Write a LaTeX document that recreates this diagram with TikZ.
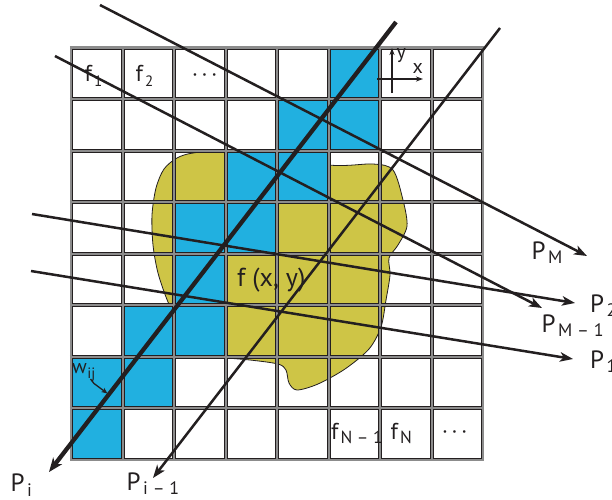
\documentclass[tikz,border=0pt]{standalone}
\usepackage{fontspec}
\setmainfont{PT Sans}
\usetikzlibrary{arrows.meta}
\definecolor{cblue}{RGB}{33,176,224}
\definecolor{cyel}{RGB}{206,197,70}
\definecolor{ink}{RGB}{35,31,32}
\definecolor{gridgray}{RGB}{140,140,140}
\newcommand{\mainsub}[5]{{\fontsize{#1}{#1}\selectfont #3}\hspace{#5}\raisebox{-4.5pt}{\fontsize{#2}{#2}\selectfont #4}}
\begin{document}
\begin{tikzpicture}[x=1pt,y=-1pt,
  ray/.style={ink, line width=2.5pt, -{Stealth[length=13pt,width=9.5pt,inset=3.5pt]}},
  thickray/.style={ink, line width=4.3pt, -{Stealth[length=14pt,width=11pt,inset=4pt]}},
  axis/.style={ink, line width=1.5pt, -{Stealth[length=7pt,width=5pt,inset=2pt]}},
  lab/.style={anchor=base west, inner sep=0pt, text=ink},
  cellline/.style={ink, line width=1pt},
  gapline/.style={gridgray, line width=2.5pt}]
\useasboundingbox (0,0) rectangle (612,499);
\fill[white] (0,0) rectangle (612,499);

% object f(x,y)
\draw[fill=cyel, draw=ink, line width=0.8pt] plot[smooth cycle, tension=0.5] coordinates {
  (193,153) (227,151) (328,165) (373,164) (393,170) (403,200) (407,226) (398,245)
  (389,258) (390,275) (386,300) (381,327) (369,349) (345,369) (318,384) (297,390)
  (289,383) (286,370) (278,364) (250,360) (215,357) (196,354) (182,330) (168,302)
  (158,273) (153,245) (152,215) (156,188) (164,169) (177,158)};

% blue cells (rays' footprint)
\foreach \c/\r in {6/1,5/2,6/2,4/3,5/3,3/4,4/4,3/5,2/6,3/6,1/7,2/7,1/8}
  \fill[cblue] ({71+51.5*(\c-1)},{47.5+51.5*(\r-1)}) rectangle +(51.5,51.5);

% grid
\foreach \i in {0,...,8} {
  \draw[gapline] ({71+51.5*\i},46.3) -- ({71+51.5*\i},460.7);
  \draw[gapline] (69.8,{47.5+51.5*\i}) -- (484.2,{47.5+51.5*\i});
}
\foreach \c in {0,...,7}
  \foreach \r in {0,...,7}
    \draw[cellline] ({71+51.5*\c+1.5},{47.5+51.5*\r+1.5}) rectangle +(48.5,48.5);

% cell labels
\node[lab] (f1) at (84.5,81.7) {\mainsub{23}{15}{f}{1}{2pt}};
\node[lab] (f2) at (135.5,81.7) {\mainsub{23}{15}{f}{2}{2pt}};
\node[lab, font=\fontsize{22}{22}\selectfont] (dots1) at (192,81.7) {·\,·\,·};
\node[lab] (fN1) at (331,439) {\mainsub{23}{17.5}{f}{N – 1}{2pt}};
\node[lab] (fN) at (390.5,439) {\mainsub{23}{17.5}{f}{N}{2pt}};
\node[lab, font=\fontsize{22}{22}\selectfont] (dots2) at (442,438) {·\,·\,·};

% axes in cell
\coordinate (ay0) at (392,93);
\coordinate (ay1) at (392,48);
\coordinate (ax0) at (377,79);
\coordinate (ax1) at (423,79);
\draw[axis] (ay0) -- (ay1);
\draw[axis] (ax0) -- (ax1);
\node[lab, font=\fontsize{20}{20}\selectfont] (ylab) at (396.5,58) {y};
\node[lab, font=\fontsize{20}{20}\selectfont] (xlab) at (412.5,73.5) {x};

% f(x,y)
\node[lab, font=\fontsize{26}{26}\selectfont] (fxy) at (237,286) {f (x, y)};

% w_ij
\node[lab] (wij) at (72,373.5) {\mainsub{20}{15}{w}{ij}{0.5pt}};
\coordinate (wa) at (90.5,379);
\coordinate (wb) at (94,383.5);
\coordinate (wc) at (107.5,393.5);
\draw[ink, line width=1.3pt, -{Stealth[length=6pt,width=5pt,inset=1.5pt]}] (wa) -- (wb) -- (wc);

% projection rays
\coordinate (sM) at (100,5);     \coordinate (eM) at (587,256);
\coordinate (sM1) at (55,56);    \coordinate (eM1) at (542,308);
\coordinate (s2) at (32,214);    \coordinate (e2) at (575,303);
\coordinate (s1) at (31,271);    \coordinate (e1) at (573,359);
\coordinate (si) at (396,22);    \coordinate (ei) at (49,472);
\coordinate (si1) at (500,28);   \coordinate (ei1) at (153,478);
\draw[ray] (sM) -- (eM);
\draw[ray] (sM1) -- (eM1);
\draw[ray] (s2) -- (e2);
\draw[ray] (s1) -- (e1);
\draw[thickray] (si) -- (ei);
\draw[ray] (si1) -- (ei1);

% ray labels
\node[lab] (PM) at (531.5,259) {\mainsub{25}{18}{P}{M}{2.5pt}};
\node[lab] (P2) at (590,312) {\mainsub{25}{18}{P}{2}{2.5pt}};
\node[lab] (PM1) at (541.5,332) {\mainsub{25}{18}{P}{M – 1}{2.5pt}};
\node[lab] (P1) at (590,368) {\mainsub{25}{18}{P}{1}{2.5pt}};
\node[lab] (Pi) at (10.5,491.5) {\mainsub{25}{18}{P}{i}{2.5pt}};
\node[lab] (Pi1) at (126.5,490) {\mainsub{25}{18}{P}{i – 1}{2.5pt}};
\end{tikzpicture}
\end{document}
